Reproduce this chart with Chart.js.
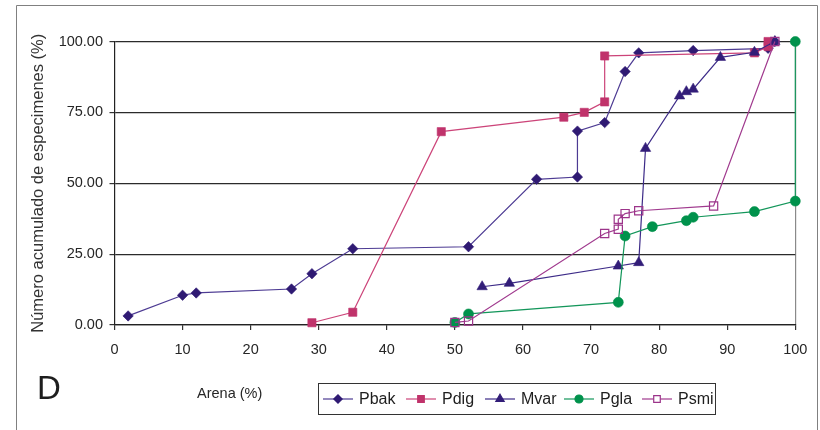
<!DOCTYPE html>
<html>
<head>
<meta charset="utf-8">
<script src="https://cdn.jsdelivr.net/npm/chart.js@4/dist/chart.umd.min.js"></script>
<style>
  html, body { margin: 0; padding: 0; background: #fff; }
  canvas { display: block; }
</style>
</head>
<body>
<canvas id="c" width="820" height="430"></canvas>
<script>
// Cumulative number of specimens (%) against sand content (%), one series per species
const seriesNames = ['Pbak', 'Pdig', 'Mvar', 'Pgla', 'Psmi'];

const pbakX = [2, 10, 12, 26, 29, 35, 52, 62, 68, 68, 72, 75, 77, 85, 96, 97];
const pbakY = [3.2, 10.5, 11.3, 12.7, 18.1, 26.9, 27.6, 51.4, 52.2, 68.4, 71.4, 89.4, 96.0, 96.8, 97.6, 100];

const pdigX = [29, 35, 48, 66, 69, 72, 72, 94, 96, 96];
const pdigY = [0.8, 4.5, 68.2, 73.3, 75.0, 78.7, 94.9, 96.0, 98.2, 100];

const mvarX = [54, 58, 74, 77, 78, 83, 84, 85, 89, 94, 97];
const mvarY = [13.5, 14.7, 20.8, 22.0, 62.3, 80.8, 82.3, 83.2, 94.4, 96.2, 100];

const pglaX = [50, 52, 74, 75, 79, 84, 85, 94, 100, 100];
const pglaY = [0.9, 3.9, 8.0, 31.4, 34.7, 36.8, 38.0, 40.0, 43.7, 100];

const psmiX = [50, 52, 72, 74, 74, 75, 77, 88, 97];
const psmiY = [0.9, 1.4, 32.3, 33.8, 37.3, 39.3, 40.3, 42.0, 100];

const xTickValues = [0, 10, 20, 30, 40, 50, 60, 70, 80, 90, 100];
const yTickValues = [0, 25, 50, 75, 100];

const xTitle = 'Arena (%)';
const yTitle = 'Número acumulado de especimenes (%)';
const panelLetter = 'D';

const FONT = '"Liberation Sans", Arial, Helvetica, sans-serif';

// Appearance of each series
const seriesStyle = {
  Pbak: { line: '#4d3b93', mark: '#2f1a73', shape: 'rectRot', r: 5.2, open: false },
  Pdig: { line: '#cc4479', mark: '#c0336b', shape: 'rect',    r: 5.8, open: false },
  Mvar: { line: '#3d2b88', mark: '#321d78', shape: 'triangle', r: 6.0, open: false },
  Pgla: { line: '#13965a', mark: '#00924c', shape: 'circle',  r: 5.0, open: false },
  Psmi: { line: '#a03a8e', mark: '#9c348a', shape: 'rect',    r: 5.8, open: true  }
};

const seriesX = [pbakX, pdigX, mvarX, pglaX, psmiX];
const seriesY = [pbakY, pdigY, mvarY, pglaY, psmiY];

function toPoints(xs, ys) {
  return xs.map((x, i) => ({ x: x, y: ys[i] }));
}

const datasets = seriesNames.map((name, i) => {
  const s = seriesStyle[name];
  return {
    label: name,
    data: toPoints(seriesX[i], seriesY[i]),
    showLine: true,
    tension: 0,
    borderColor: s.line,
    borderWidth: 1.2,
    pointStyle: s.shape,
    pointRadius: s.r,
    pointHoverRadius: s.r,
    pointBackgroundColor: s.open ? 'rgba(0,0,0,0)' : s.mark,
    pointBorderColor: s.mark,
    pointBorderWidth: s.open ? 1.2 : 0.6,
    clip: false,
    order: seriesNames.length - i
  };
});

// Frame, panel letter, x-axis caption and boxed legend
const decorations = {
  id: 'decorations',
  afterDraw(chart) {
    const ctx = chart.ctx;
    ctx.save();

    ctx.strokeStyle = '#808080';
    ctx.lineWidth = 1;
    ctx.beginPath();
    ctx.moveTo(16.5, 432);
    ctx.lineTo(16.5, 5.5);
    ctx.lineTo(817.5, 5.5);
    ctx.lineTo(817.5, 432);
    ctx.stroke();

    ctx.fillStyle = '#1e1e1e';
    ctx.font = '33px ' + FONT;
    ctx.textBaseline = 'alphabetic';
    ctx.textAlign = 'left';
    ctx.fillText(panelLetter, 37, 399);

    ctx.fillStyle = '#262626';
    ctx.font = '14.5px ' + FONT;
    ctx.textBaseline = 'middle';
    ctx.fillText(xTitle, 197, 394);

    // legend box
    const box = { x: 318.5, y: 383.5, w: 397, h: 31 };
    ctx.fillStyle = '#fff';
    ctx.fillRect(box.x, box.y, box.w, box.h);
    ctx.strokeStyle = '#333';
    ctx.lineWidth = 1;
    ctx.strokeRect(box.x, box.y, box.w, box.h);

    const cy = box.y + box.h / 2;
    const markerX = [338, 421, 500, 579, 657];
    ctx.font = '16px ' + FONT;
    seriesNames.forEach((name, i) => {
      const s = seriesStyle[name];
      const mx = markerX[i];
      ctx.strokeStyle = s.line;
      ctx.lineWidth = 1.2;
      ctx.beginPath();
      ctx.moveTo(mx - 15, cy);
      ctx.lineTo(mx + 15, cy);
      ctx.stroke();

      ctx.fillStyle = s.open ? '#fff' : s.mark;
      ctx.strokeStyle = s.mark;
      Chart.helpers.drawPoint(ctx, {
        pointStyle: s.shape,
        radius: s.r * 0.8,
        rotation: 0,
        borderWidth: s.open ? 1.2 : 0.6
      }, mx, cy);

      ctx.fillStyle = '#1e1e1e';
      ctx.textBaseline = 'middle';
      ctx.fillText(name, mx + 21, cy + 0.5);
    });

    ctx.restore();
  }
};

new Chart(document.getElementById('c'), {
  type: 'scatter',
  data: { datasets: datasets },
  plugins: [decorations],
  options: {
    responsive: false,
    devicePixelRatio: 1,
    animation: false,
    events: [],
    layout: { padding: { left: 29, top: 41.5, right: 24.7, bottom: 0 } },
    plugins: {
      legend: { display: false },
      tooltip: { enabled: false }
    },
    scales: {
      x: {
        type: 'linear',
        min: 0,
        max: 100,
        afterBuildTicks(scale) { scale.ticks = xTickValues.map(v => ({ value: v })); },
        afterFit(scale) { scale.height = 105; },
        border: { display: true, color: '#222', width: 1.2 },
        grid: {
          drawOnChartArea: true,
          drawTicks: true,
          tickLength: 5,
          tickColor: '#333',
          lineWidth: 1.2,
          color: (c) => (c.tick && c.tick.value === 100 ? '#8a8a8a' : 'rgba(0,0,0,0)')
        },
        ticks: {
          color: '#262626',
          padding: 11,
          maxRotation: 0,
          font: { family: FONT, size: 14.5 },
          callback: (v) => String(v)
        }
      },
      y: {
        type: 'linear',
        min: 0,
        max: 100,
        afterBuildTicks(scale) { scale.ticks = yTickValues.map(v => ({ value: v })); },
        afterFit(scale) { scale.width = 85.5; },
        border: { display: true, color: '#222', width: 1.2 },
        grid: {
          drawTicks: true,
          tickLength: 5,
          tickColor: '#333',
          lineWidth: 1.2,
          color: '#2b2b2b'
        },
        ticks: {
          color: '#262626',
          padding: 6.5,
          font: { family: FONT, size: 14.5 },
          callback: (v) => Number(v).toFixed(2)
        },
        title: {
          display: true,
          text: yTitle,
          color: '#333',
          padding: 0,
          font: { family: FONT, size: 16.5 }
        }
      }
    }
  }
});
</script>
</body>
</html>
